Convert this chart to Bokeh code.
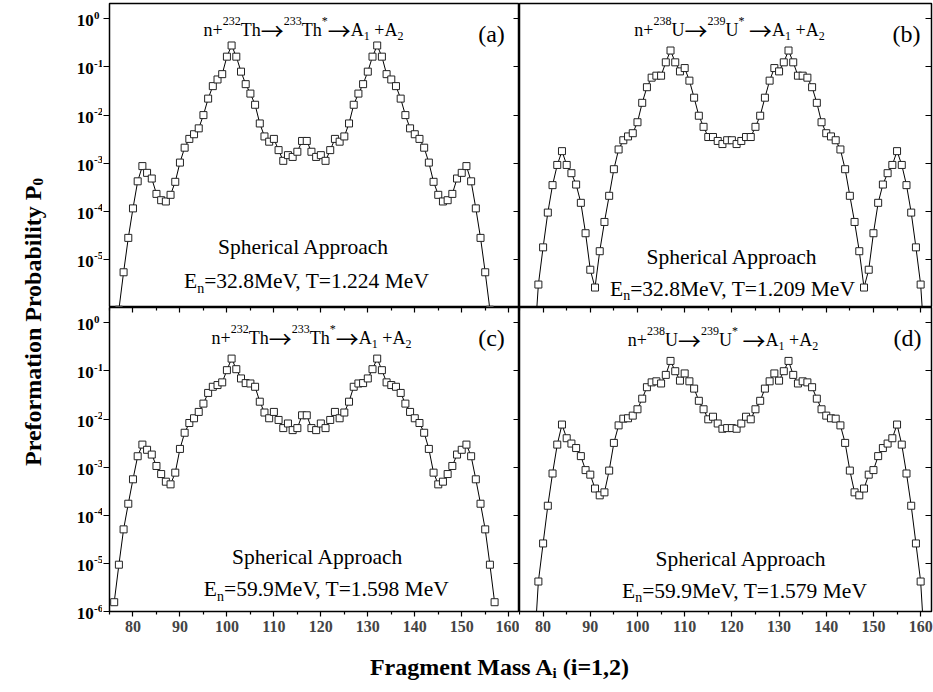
import glob
import math
from bokeh.plotting import figure
from bokeh.models import (ColumnDataSource, Label, LogAxis, LinearAxis, FixedTicker,
                          Range1d, CustomJSTickFormatter)
from bokeh.layouts import row, column
from bokeh.embed import file_html
from bokeh.resources import INLINE

FONT = "Liberation Serif"
ARROW_FONT = "Noto Sans CJK JP"

# ---------------- data ----------------
mass_th_32 = list(range(77, 157))
p0_th_32 = [9e-7, 5.4e-6, 2.8e-5, 1.15e-4, 4.2e-4, 8.7e-4, 6.3e-4, 4.8e-4, 2.3e-4, 1.7e-4,
            1.6e-4, 2.2e-4, 4.1e-4, 1.03e-3, 2.1e-3, 3.2e-3, 4.0e-3, 5.3e-3, 1.0e-2, 2.2e-2,
            4.0e-2, 5.5e-2, 7.1e-2, 0.164, 0.28, 0.164, 0.080, 0.044, 0.028, 0.0164,
            6.7e-3, 3.6e-3, 2.8e-3, 3.2e-3, 1.87e-3, 1.12e-3, 1.47e-3, 1.35e-3, 1.73e-3, 2.9e-3,
            2.9e-3, 1.73e-3, 1.35e-3, 1.47e-3, 1.12e-3, 1.87e-3, 3.2e-3, 2.8e-3, 3.6e-3, 6.7e-3,
            0.0164, 0.028, 0.044, 0.080, 0.164, 0.28, 0.164, 7.1e-2, 5.5e-2, 4.0e-2,
            2.2e-2, 1.0e-2, 5.3e-3, 4.0e-3, 3.2e-3, 2.1e-3, 1.03e-3, 4.1e-4, 2.2e-4, 1.6e-4,
            1.7e-4, 2.3e-4, 4.8e-4, 6.3e-4, 8.7e-4, 4.2e-4, 1.15e-4, 2.8e-5, 5.4e-6, 9e-7]

mass_u_32 = list(range(78, 162))
p0_u_32 = [1e-7, 3.0e-6, 1.78e-5, 9.4e-5, 3.5e-4, 9.2e-4, 1.78e-3, 9.2e-4, 6.2e-4, 3.6e-4,
           1.5e-4, 3.5e-5, 6.1e-6, 2.6e-6, 1.48e-5, 6.0e-5, 2.1e-4, 7.5e-4, 1.93e-3, 3.0e-3,
           3.6e-3, 4.2e-3, 7.1e-3, 0.018, 0.038, 0.060, 0.066, 0.066, 0.125, 0.22,
           0.125, 0.081, 0.095, 0.052, 0.023, 9.7e-3, 5.7e-3, 3.5e-3, 3.5e-3, 2.9e-3,
           2.5e-3, 3.0e-3, 3.0e-3, 2.5e-3, 2.9e-3, 3.5e-3, 3.5e-3, 5.7e-3, 9.7e-3, 0.023,
           0.052, 0.095, 0.081, 0.125, 0.22, 0.125, 0.066, 0.066, 0.060, 0.038,
           0.018, 7.1e-3, 4.2e-3, 3.6e-3, 3.0e-3, 1.93e-3, 7.5e-4, 2.1e-4, 6.0e-5, 1.48e-5,
           2.6e-6, 6.1e-6, 3.5e-5, 1.5e-4, 3.6e-4, 6.2e-4, 9.2e-4, 1.78e-3, 9.2e-4, 3.5e-4,
           9.4e-5, 1.78e-5, 3.0e-6, 1e-7]

mass_th_60 = list(range(76, 158))
p0_th_60 = [1.56e-6, 9.4e-6, 5.1e-5, 1.74e-4, 5.6e-4, 1.69e-3, 2.95e-3, 2.3e-3, 1.83e-3, 1.06e-3,
            7.2e-4, 5.0e-4, 4.4e-4, 7.7e-4, 2.4e-3, 5.2e-3, 8.3e-3, 1.04e-2, 1.41e-2, 2.1e-2,
            3.5e-2, 4.7e-2, 5.1e-2, 5.8e-2, 0.104, 0.181, 0.109, 0.070, 0.056, 0.055,
            0.047, 0.023, 0.0137, 0.0104, 0.0141, 9.6e-3, 6.5e-3, 8.1e-3, 5.9e-3, 6.5e-3,
            0.012, 0.012, 6.5e-3, 5.9e-3, 8.1e-3, 6.5e-3, 9.6e-3, 0.0141, 0.0104, 0.0137,
            0.023, 0.047, 0.055, 0.056, 0.070, 0.109, 0.181, 0.104, 5.8e-2, 5.1e-2,
            4.7e-2, 3.5e-2, 2.1e-2, 1.41e-2, 1.04e-2, 8.3e-3, 5.2e-3, 2.4e-3, 7.7e-4, 4.4e-4,
            5.0e-4, 7.2e-4, 1.06e-3, 1.83e-3, 2.3e-3, 2.95e-3, 1.69e-3, 5.6e-4, 1.74e-4, 5.1e-5,
            9.4e-6, 1.56e-6]

mass_u_60 = list(range(78, 162))
p0_u_60 = [1e-7, 4.2e-6, 2.6e-5, 1.58e-4, 7.4e-4, 2.95e-3, 7.7e-3, 4.0e-3, 3.1e-3, 2.5e-3,
           1.7e-3, 8.7e-4, 7.0e-4, 3.6e-4, 2.6e-4, 3.0e-4, 8.5e-4, 3.2e-3, 7.4e-3, 1.02e-2,
           1.04e-2, 1.18e-2, 0.016, 0.0266, 0.046, 0.058, 0.061, 0.055, 0.083, 0.162,
           0.099, 0.063, 0.089, 0.061, 0.043, 0.024, 0.016, 9.9e-3, 0.0112, 8.1e-3,
           6.3e-3, 6.5e-3, 6.5e-3, 6.3e-3, 8.1e-3, 0.0112, 9.9e-3, 0.016, 0.024, 0.043,
           0.061, 0.089, 0.063, 0.099, 0.162, 0.083, 0.055, 0.061, 0.058, 0.046,
           0.0266, 0.016, 1.18e-2, 1.04e-2, 1.02e-2, 7.4e-3, 3.2e-3, 8.5e-4, 3.0e-4, 2.6e-4,
           3.6e-4, 7.0e-4, 8.7e-4, 1.7e-3, 2.5e-3, 3.1e-3, 4.0e-3, 7.7e-3, 2.95e-3, 7.4e-4,
           1.58e-4, 2.6e-5, 4.2e-6, 1e-7]

x_ticks = [80, 90, 100, 110, 120, 130, 140, 150, 160]
x_minor = [75, 85, 95, 105, 115, 125, 135, 145, 155]
y_decades = [1e-6, 1e-5, 1e-4, 1e-3, 1e-2, 1e-1, 1e0]
y_exponents = ["-6", "-5", "-4", "-3", "-2", "-1", "0"]

# ---------------- text measuring ----------------
try:
    from PIL import ImageFont
except Exception:
    ImageFont = None

FONT_FILES = {(FONT, False): ["LiberationSerif-Regular.ttf"],
              (FONT, True): ["LiberationSerif-Bold.ttf"],
              (ARROW_FONT, False): ["NotoSansCJK-Regular.ttc", "NotoSansCJKjp-Regular.otf",
                                    "NotoSansCJK*Regular*"]}
_fonts = {}


def _load(font, bold):
    key = (font, bold)
    if key in _fonts:
        return _fonts[key]
    f = None
    if ImageFont is not None and key in FONT_FILES:
        for name in FONT_FILES[key]:
            hits = []
            for root in ["/usr/share/fonts", "/usr/local/share/fonts", "/usr/share", "/usr/lib"]:
                hits = sorted(glob.glob(root + "/**/" + name, recursive=True))
                if hits:
                    break
            if hits:
                try:
                    f = ImageFont.truetype(hits[0], 100)
                    break
                except Exception:
                    f = None
    _fonts[key] = f
    return f


def text_width(s, size, bold=False, font=FONT):
    f = _load(font, bold)
    if f is not None:
        try:
            return f.getlength(s) * size / 100.0
        except Exception:
            pass
    if font == ARROW_FONT:
        return 1.0 * size * len(s)
    return 0.5 * size * len(s)


# ---------------- geometry ----------------
X0, X1 = 75.0, 162.3
LY0, LY1 = -6.0, 0.32
PAGE_H = 692
YFIG_W = 102
FRAME = {"a": (109, 3, 410, 304), "b": (519, 3, 412, 304),
         "c": (109, 307, 410, 304), "d": (519, 307, 412, 304)}


def to_data(key, px, py):
    L, T, W, H = FRAME[key]
    x = X0 + (px - L) / W * (X1 - X0)
    ly = LY1 - (py - T) / H * (LY1 - LY0)
    return x, 10 ** ly


def piece(t, s, dy=0, bold=False, font=FONT):
    return (t, s, dy, bold, font)


def compose(p, key, pieces, cx, by):
    widths = [text_width(t, s, b, f) for (t, s, dy, b, f) in pieces]
    x = cx - sum(widths) / 2.0
    for (t, s, dy, b, f), w in zip(pieces, widths):
        st = t.lstrip(" ")
        lead = text_width(t[: len(t) - len(st)], s, b, f)
        if st:
            dx, dv = to_data(key, x + lead, by + dy)
            p.add_layout(Label(x=dx, y=dv, text=st, text_font=f, text_font_size=f"{s}px",
                               text_font_style="bold" if b else "normal", text_align="left",
                               text_baseline="alphabetic", text_color="black"))
        x += w


def empty_fmt():
    return CustomJSTickFormatter(code="return ''")


def y_axis(tin, tout):
    return LogAxis(ticker=FixedTicker(ticks=y_decades, minor_ticks=[]), formatter=empty_fmt(),
                   major_tick_in=tin, major_tick_out=tout, minor_tick_in=0, minor_tick_out=0,
                   major_tick_line_color="black", major_tick_line_width=1.2,
                   axis_line_color=None, major_label_text_font_size="0px",
                   major_label_standoff=0)


def no_grid(p):
    for r in list(p.center):
        r.visible = False


def panel(key, masses, vals, left_col, top_row):
    L, T, W, H = FRAME[key]
    bl = 7 if left_col else 0
    br = 0 if left_col else 2
    bt = 3 if top_row else 0
    bb = 0 if top_row else 30
    p = figure(width=bl + W + br, height=bt + H + bb,
               x_range=Range1d(X0, X1), y_range=Range1d(10 ** LY0, 10 ** LY1),
               y_axis_type="log", x_axis_location=None, y_axis_location=None,
               toolbar_location=None, output_backend="svg",
               min_border_left=bl, min_border_right=br,
               min_border_top=bt, min_border_bottom=bb)
    no_grid(p)
    p.outline_line_color = "black"
    p.outline_line_width = 1.5
    p.background_fill_color = "white"
    p.border_fill_color = "white"

    src = ColumnDataSource(dict(x=masses, y=vals))
    p.line("x", "y", source=src, line_color="black", line_width=1)
    p.scatter("x", "y", source=src, marker="square", size=7, fill_color="white",
              line_color="#222222", line_width=1)

    if left_col:
        p.add_layout(y_axis(0, 6), "left")
        p.add_layout(y_axis(6, 0), "right")
    else:
        p.add_layout(y_axis(6, 0), "right")

    if not top_row:
        xb = LinearAxis(ticker=FixedTicker(ticks=x_ticks, minor_ticks=x_minor),
                        major_tick_in=0, major_tick_out=5, minor_tick_in=0, minor_tick_out=3,
                        major_tick_line_width=1.2, minor_tick_line_width=1.2,
                        axis_line_color=None, major_label_text_font=FONT,
                        major_label_text_font_style="bold", major_label_text_font_size="16px",
                        major_label_standoff=4)
        p.add_layout(xb, "below")
        xa = LinearAxis(ticker=FixedTicker(ticks=x_ticks, minor_ticks=x_minor),
                        formatter=empty_fmt(),
                        major_tick_in=5, major_tick_out=0, minor_tick_in=3, minor_tick_out=0,
                        major_tick_line_width=1.2, minor_tick_line_width=1.2,
                        axis_line_color=None, major_label_text_font_size="0px",
                        major_label_standoff=0)
        p.add_layout(xa, "above")
    return p


pa = panel("a", mass_th_32, p0_th_32, True, True)
pb = panel("b", mass_u_32, p0_u_32, False, True)
pc = panel("c", mass_th_60, p0_th_60, True, False)
pd = panel("d", mass_u_60, p0_u_60, False, False)

TS, SS, AS, ADY = 18, 12, 23, 0   # title / script / arrow sizes, arrow drop
ARROW = "\u2192"


def arrow():
    return piece(ARROW, AS, ADY, font=ARROW_FONT)


def th_title():
    return [piece("n+", TS), piece("232", SS, -9), piece("Th", TS), arrow(),
            piece("233", SS, -9), piece("Th", TS), piece("*", SS, -9), arrow(),
            piece("A", TS), piece("1", SS, 6), piece(" +A", TS), piece("2", SS, 6)]


def u_title():
    return [piece("n+", TS), piece("238", SS, -9), piece("U", TS), arrow(),
            piece("239", SS, -9), piece("U", TS), piece("*", SS, -9), piece(" ", TS),
            arrow(), piece("A", TS), piece("1", SS, 6), piece(" +A", TS), piece("2", SS, 6)]


BS, BSS = 21.5, 14


def en_line(rest):
    return [piece("E", BS), piece("n", BSS, 7), piece(rest, BS)]


def sph():
    return [piece("Spherical Approach", BS)]


compose(pa, "a", th_title(), 303, 29.5)
compose(pa, "a", [piece("(a)", 24)], 491, 33)
compose(pa, "a", sph(), 302.5, 246.7)
compose(pa, "a", en_line("=32.8MeV, T=1.224 MeV"), 306, 280.7)

compose(pb, "b", u_title(), 729, 29.5)
compose(pb, "b", [piece("(b)", 24)], 906, 33)
compose(pb, "b", sph(), 731, 256.7)
compose(pb, "b", en_line("=32.8MeV, T=1.209 MeV"), 732, 288)

compose(pc, "c", th_title(), 311, 337.7)
compose(pc, "c", [piece("(c)", 24)], 491, 337)
compose(pc, "c", sph(), 316.7, 556.5)
compose(pc, "c", en_line("=59.9MeV, T=1.598 MeV"), 325.8, 588.5)

compose(pd, "d", u_title(), 722.5, 339.3)
compose(pd, "d", [piece("(d)", 24)], 907, 337)
compose(pd, "d", sph(), 740, 558.3)
compose(pd, "d", en_line("=59.9MeV, T=1.579 MeV"), 744, 590)

# ---------------- left strip: y title and y tick labels ----------------
TITLE = 24
yfig = figure(width=YFIG_W, height=PAGE_H, x_range=Range1d(0, YFIG_W), y_range=Range1d(0, PAGE_H),
              x_axis_location=None, y_axis_location=None, toolbar_location=None,
              output_backend="svg", min_border=0)
no_grid(yfig)
yfig.outline_line_color = None
yfig.background_fill_color = "white"
yfig.border_fill_color = "white"

for top_row, T in [(True, 3), (False, 307)]:
    pairs = list(zip(y_decades, y_exponents))
    if top_row:
        pairs = pairs[1:]
    for dec, ex in pairs:
        ty = T + (LY1 - math.log10(dec)) / (LY1 - LY0) * 304
        yfig.add_layout(Label(x=93.3, y=PAGE_H - (ty + 2), text="10", text_font=FONT,
                              text_font_size="17px", text_font_style="bold", text_align="right",
                              text_baseline="middle", text_color="black"))
        yfig.add_layout(Label(x=93.6, y=PAGE_H - (ty - 3.5), text=ex, text_font=FONT,
                              text_font_size="11px", text_font_style="bold", text_align="left",
                              text_baseline="middle", text_color="black"))

ymain = "Preformation Probability P"
wy = text_width(ymain, TITLE, True)
wsub = text_width("0", 15, True)
ystart = (PAGE_H - 321.5) - (wy + wsub) / 2.0
yfig.add_layout(Label(x=32, y=ystart, text=ymain, angle=math.pi / 2, text_font=FONT,
                      text_font_size=f"{TITLE}px", text_font_style="bold", text_align="left",
                      text_baseline="alphabetic", text_color="black"))
yfig.add_layout(Label(x=37, y=ystart + wy, text="0", angle=math.pi / 2, text_font=FONT,
                      text_font_size="15px", text_font_style="bold", text_align="left",
                      text_baseline="alphabetic", text_color="black"))

# ---------------- bottom strip: x title ----------------
XFIG_W = 933 - YFIG_W
xfig = figure(width=XFIG_W, height=51, x_range=Range1d(0, XFIG_W), y_range=Range1d(0, 51),
              x_axis_location=None, y_axis_location=None, toolbar_location=None,
              output_backend="svg", min_border=0)
no_grid(xfig)
xfig.outline_line_color = None
xfig.background_fill_color = "white"
xfig.border_fill_color = "white"
xpieces = [("Fragment Mass A", TITLE, 0, True), ("i", 15, 6, True), (" (i=1,2)", TITLE, 0, True)]
xw = [text_width(t, s, b) for t, s, d, b in xpieces]
xx = (499 - YFIG_W) - sum(xw) / 2.0
for (t, s, d, b), w in zip(xpieces, xw):
    st = t.lstrip(" ")
    lead = text_width(t[: len(t) - len(st)], s, b)
    xfig.add_layout(Label(x=xx + lead, y=(PAGE_H - 641) - (666 - 641) - d, text=st,
                          text_font=FONT, text_font_size=f"{s}px", text_font_style="bold",
                          text_align="left", text_baseline="alphabetic", text_color="black"))
    xx += w

layout = row(yfig, column(row(pa, pb), row(pc, pd), xfig))

open("out.html", "w").write(file_html(layout, INLINE))
